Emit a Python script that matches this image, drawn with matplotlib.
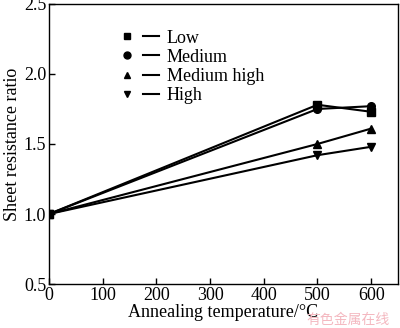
import matplotlib.pyplot as plt
from matplotlib.lines import Line2D
from matplotlib.legend_handler import HandlerTuple

# Data
temps = [0, 500, 600]
low = [1.0, 1.78, 1.73]
medium = [1.0, 1.75, 1.77]
medium_high = [1.0, 1.50, 1.61]
high = [1.0, 1.42, 1.48]

series = [low, medium, medium_high, high]
labels = ['Low', 'Medium', 'Medium high', 'High']
markers = ['s', 'o', '^', 'v']

plt.rcParams['font.family'] = ['Liberation Serif', 'DejaVu Serif']

fig = plt.figure(figsize=(4.0, 3.28), dpi=100)
ax = fig.add_axes([0.1225, 0.134, 0.8725, 0.854])

for ys, mk in zip(series, markers):
    ax.plot(temps, ys, color='black', lw=1.5, marker=mk, ms=5.5)

# legend: marker, gap, then a short line
handles = [(Line2D([], [], color='black', marker=mk, ls='none', ms=5),
            Line2D([], [], color='black', lw=1.5)) for mk in markers]

ax.set_xlim(0, 650)
ax.set_ylim(0.5, 2.5)
ax.set_xticks([0, 100, 200, 300, 400, 500, 600])
ax.set_yticks([0.5, 1.0, 1.5, 2.0, 2.5])
ax.tick_params(direction='in', length=4, labelsize=13, width=1, pad=2)
for s in ax.spines.values():
    s.set_linewidth(1)

ax.set_xlabel('Annealing temperature/°C', fontsize=13, labelpad=0)
ax.set_ylabel('Sheet resistance ratio', fontsize=13, labelpad=2)

ax.legend(handles, labels, loc='upper left', bbox_to_anchor=(0.18, 0.934),
          frameon=False, fontsize=13, handlelength=2.2, handletextpad=0.45,
          labelspacing=0.12, borderaxespad=0,
          handler_map={tuple: HandlerTuple(ndivide=None, pad=0.5)})

fig.text(0.765, 0.012, '有色金属在线', color='#f4b8c0', fontsize=10,
         family=['Noto Sans CJK SC', 'DejaVu Sans'])

fig.savefig('out.png', dpi=100)
